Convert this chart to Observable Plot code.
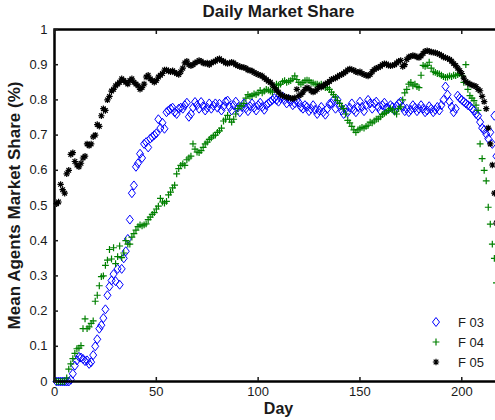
<!DOCTYPE html>
<html>
<head>
<meta charset="utf-8">
<script src="https://cdn.jsdelivr.net/npm/d3@7"></script>
<script src="https://cdn.jsdelivr.net/npm/@observablehq/plot@0.6"></script>
<style>
  html, body { margin: 0; padding: 0; background: #fff; overflow: hidden; }
  #chart { position: relative; width: 495px; height: 420px; overflow: hidden; }
  #chart > svg { display: block; max-width: none; width: 510px; height: 420px; }
  .legend-row { position: absolute; left: 428px; height: 20px; display: flex; align-items: center;
    font-family: "Liberation Sans", Arial, Helvetica, sans-serif; font-size: 13px; color: #1a1a1a; }
  .legend-row svg { width: 16px; height: 20px; }
  .legend-row span { margin-left: 14px; }
</style>
</head>
<body>
<div id="chart"></div>
<script>
// Mean agents' daily market share (fraction), one value per day starting at day 1
const f03 = [
  0, 0, 0, 0, 0, 0, 0,
  0.005, 0.022, 0.045, 0.06, 0.07, 0.068, 0.064, 0.058, 0.06, 0.05,
  0.055, 0.075, 0.10, 0.12, 0.15, 0.16, 0.18, 0.205, 0.245, 0.27,
  0.287, 0.305, 0.285, 0.32, 0.275, 0.32, 0.35, 0.37, 0.405, 0.46,
  0.535, 0.557, 0.61, 0.62, 0.647, 0.635, 0.675, 0.68, 0.665, 0.69,
  0.695, 0.70, 0.705, 0.745, 0.72, 0.735, 0.718, 0.765, 0.77, 0.775,
  0.778, 0.765, 0.76, 0.775, 0.778, 0.775, 0.785, 0.792, 0.752, 0.76,
  0.778, 0.794, 0.785, 0.775, 0.794, 0.782, 0.77, 0.778, 0.79, 0.775,
  0.784, 0.79, 0.778, 0.789, 0.77, 0.782, 0.795, 0.798, 0.78, 0.77,
  0.785, 0.795, 0.778, 0.765, 0.78, 0.79, 0.776, 0.768, 0.782, 0.79,
  0.778, 0.77, 0.785, 0.792, 0.78, 0.772, 0.785, 0.79, 0.795, 0.80,
  0.805, 0.80, 0.795, 0.805, 0.81, 0.80, 0.79, 0.802, 0.796, 0.785,
  0.79, 0.80, 0.792, 0.78, 0.775, 0.785, 0.78, 0.768, 0.775, 0.785,
  0.772, 0.76, 0.77, 0.78, 0.765, 0.758, 0.775, 0.788, 0.79, 0.80,
  0.775, 0.80, 0.782, 0.77, 0.76, 0.775, 0.765, 0.778, 0.79, 0.772,
  0.765, 0.78, 0.795, 0.78, 0.768, 0.785, 0.80, 0.79, 0.775, 0.79,
  0.795, 0.78, 0.77, 0.785, 0.792, 0.778, 0.775, 0.785, 0.78, 0.77,
  0.782, 0.79, 0.795, 0.78, 0.768, 0.775, 0.765, 0.772, 0.785, 0.778,
  0.768, 0.775, 0.785, 0.775, 0.765, 0.77, 0.782, 0.775, 0.765, 0.772,
  0.78, 0.77, 0.785, 0.80, 0.838, 0.815, 0.795, 0.78, 0.765, 0.775,
  0.812, 0.805, 0.80, 0.795, 0.79, 0.785, 0.782, 0.775, 0.77, 0.76,
  0.755, 0.737, 0.72, 0.715, 0.703, 0.69, 0.708, 0.675, 0.755, 0.64
];
const f04 = [
  0, 0, 0, 0, 0,
  0.01, 0.035, 0.05, 0.065, 0.08, 0.093, 0.095, 0.102, 0.15, 0.178,
  0.15, 0.155, 0.165, 0.172, 0.228, 0.245, 0.272, 0.298, 0.30, 0.33,
  0.345, 0.375, 0.348, 0.38, 0.335, 0.355, 0.385, 0.352, 0.365, 0.40,
  0.39, 0.39, 0.41, 0.42, 0.43, 0.44, 0.445, 0.442, 0.445, 0.448,
  0.46, 0.467, 0.475, 0.48, 0.49, 0.498, 0.52, 0.51, 0.507, 0.512,
  0.53, 0.538, 0.55, 0.558, 0.59, 0.605, 0.614, 0.618, 0.614, 0.63,
  0.635, 0.64, 0.675, 0.66, 0.652, 0.65, 0.656, 0.665, 0.675, 0.68,
  0.688, 0.692, 0.698, 0.70, 0.708, 0.712, 0.72, 0.74, 0.745, 0.756,
  0.745, 0.737, 0.745, 0.76, 0.775, 0.784, 0.782, 0.79, 0.805, 0.815,
  0.81, 0.812, 0.817, 0.815, 0.82, 0.827, 0.82, 0.825, 0.83, 0.828,
  0.825, 0.822, 0.835, 0.845, 0.842, 0.845, 0.852, 0.855, 0.85, 0.853,
  0.855, 0.86, 0.868, 0.858, 0.85, 0.845, 0.85, 0.855, 0.856, 0.855,
  0.85, 0.848, 0.845, 0.845, 0.842, 0.845, 0.84, 0.835, 0.835, 0.83,
  0.822, 0.815, 0.808, 0.798, 0.79, 0.782, 0.775, 0.76, 0.742, 0.735,
  0.725, 0.715, 0.708, 0.715, 0.718, 0.722, 0.72, 0.725, 0.728, 0.737,
  0.735, 0.74, 0.745, 0.746, 0.752, 0.758, 0.762, 0.765, 0.77, 0.775,
  0.772, 0.765, 0.76, 0.775, 0.78, 0.80, 0.82, 0.83, 0.845, 0.85,
  0.84, 0.845, 0.838, 0.835, 0.87, 0.898, 0.895, 0.898, 0.907, 0.89,
  0.88, 0.878, 0.875, 0.874, 0.87, 0.866, 0.864, 0.865, 0.868, 0.866,
  0.87, 0.869, 0.872, 0.875, 0.87, 0.85, 0.90, 0.83, 0.812, 0.805,
  0.798, 0.785, 0.77, 0.675, 0.633, 0.60, 0.57, 0.495, 0.447, 0.39,
  0.35, 0.28
];
const f05 = [
  0.505, 0.51, 0.56, 0.545, 0.535, 0.59, 0.60, 0.645, 0.65, 0.625,
  0.615, 0.61, 0.62, 0.635, 0.64, 0.675, 0.67, 0.675, 0.695, 0.70,
  0.73, 0.725, 0.755, 0.775, 0.77, 0.80, 0.81, 0.825, 0.83, 0.84,
  0.845, 0.85, 0.86, 0.855, 0.85, 0.845, 0.855, 0.86, 0.85, 0.845,
  0.84, 0.83, 0.835, 0.845, 0.865, 0.87, 0.86, 0.855, 0.85, 0.855,
  0.865, 0.87, 0.875, 0.885, 0.885, 0.882, 0.88, 0.883, 0.878, 0.875,
  0.872, 0.88, 0.89, 0.905, 0.91, 0.90, 0.897, 0.90, 0.905, 0.908,
  0.912, 0.91, 0.905, 0.903, 0.905, 0.90, 0.905, 0.908, 0.91, 0.915,
  0.917, 0.912, 0.91, 0.905, 0.903, 0.905, 0.907, 0.905, 0.90, 0.897,
  0.895, 0.893, 0.892, 0.89, 0.885, 0.884, 0.882, 0.878, 0.875, 0.872,
  0.87, 0.868, 0.862, 0.858, 0.853, 0.85, 0.843, 0.835, 0.828, 0.822,
  0.815, 0.812, 0.81, 0.808, 0.806, 0.805, 0.803, 0.806, 0.83, 0.812,
  0.815, 0.822, 0.83, 0.835, 0.832, 0.826, 0.822, 0.825, 0.83, 0.838,
  0.836, 0.84, 0.845, 0.848, 0.852, 0.858, 0.86, 0.862, 0.866, 0.87,
  0.872, 0.876, 0.88, 0.885, 0.888, 0.886, 0.884, 0.88, 0.878, 0.88,
  0.875, 0.872, 0.87, 0.868, 0.872, 0.88, 0.886, 0.89, 0.892, 0.895,
  0.90, 0.903, 0.902, 0.898, 0.897, 0.898, 0.90, 0.905, 0.91, 0.912,
  0.895, 0.90, 0.915, 0.922, 0.924, 0.926, 0.925, 0.922, 0.92, 0.925,
  0.932, 0.938, 0.94, 0.938, 0.936, 0.935, 0.934, 0.932, 0.93, 0.926,
  0.922, 0.92, 0.918, 0.915, 0.91, 0.903, 0.898, 0.89, 0.883, 0.875,
  0.862, 0.852, 0.848, 0.845, 0.842, 0.84, 0.838, 0.83, 0.826, 0.81,
  0.795, 0.775, 0.72, 0.675, 0.615, 0.535, 0.45
];

const seriesNames = ["F 03", "F 04", "F 05"];
const seriesColors = ["#0000ff", "#008000", "#000000"];
const xTicks = [0, 50, 100, 150, 200];
const yTicks = [0, 0.1, 0.2, 0.3, 0.4, 0.5, 0.6, 0.7, 0.8, 0.9, 1];
const yTickLabels = ["0", "0.1", "0.2", "0.3", "0.4", "0.5", "0.6", "0.7", "0.8", "0.9", "1"];
const titleText = "Daily Market Share";
const xLabel = "Day";
const yLabel = "Mean Agents Market Share (%)";

// Marker shapes: outlined diamond, plus sign and eight-armed asterisk
const diamond = { draw(ctx, size) {
  const r = Math.sqrt(size / Math.PI), w = r * 0.78;
  ctx.moveTo(0, -r); ctx.lineTo(w, 0); ctx.lineTo(0, r); ctx.lineTo(-w, 0); ctx.closePath();
}};
const plus = { draw(ctx, size) {
  const r = Math.sqrt(size / Math.PI);
  ctx.moveTo(-r, 0); ctx.lineTo(r, 0); ctx.moveTo(0, -r); ctx.lineTo(0, r);
}};
const asterisk = { draw(ctx, size) {
  const r = Math.sqrt(size / Math.PI), q = r * 0.72;
  ctx.moveTo(-r, 0); ctx.lineTo(r, 0); ctx.moveTo(0, -r); ctx.lineTo(0, r);
  ctx.moveTo(-q, -q); ctx.lineTo(q, q); ctx.moveTo(-q, q); ctx.lineTo(q, -q);
}};
const symbols = [diamond, plus, asterisk];
const radii = [4.5, 3.4, 3.2];
const widths = [1, 1.2, 1.2];

const toRows = (values) => values.map((share, i) => ({ day: i + 1, share }));
const seriesData = [f03, f04, f05].map(toRows);

const font = "'Liberation Sans', Arial, Helvetica, sans-serif";

const chart = Plot.plot({
  width: 510,
  height: 420,
  marginLeft: 54,
  marginRight: 8,
  marginTop: 29,
  marginBottom: 39,
  style: { fontFamily: font, fontSize: "13px", color: "#1a1a1a", background: "#fff", overflow: "visible", maxWidth: "none" },
  x: { domain: [0, 220] },
  y: { domain: [0, 1] },
  marks: [
    ...seriesData.map((rows, k) => Plot.dot(rows, {
      x: "day", y: "share", symbol: symbols[k], r: radii[k],
      fill: "none", stroke: seriesColors[k], strokeWidth: widths[k]
    })),
    Plot.frame({ stroke: "#000", strokeWidth: 2.5 }),
    Plot.axisX(xTicks, { anchor: "bottom", tickSize: -4, tickPadding: 9, label: null, strokeWidth: 1.5, fontSize: 13 }),
    Plot.axisX(xTicks, { anchor: "top", tickSize: -4, tickFormat: () => "", label: null, strokeWidth: 1.5 }),
    Plot.axisY(yTicks, { anchor: "left", tickSize: -4, tickPadding: 11, label: null, strokeWidth: 1.5, fontSize: 13,
      tickFormat: (d) => yTickLabels[yTicks.indexOf(d)] }),
    Plot.text([titleText], { text: (d) => d, frameAnchor: "top", lineAnchor: "middle", dy: -18,
      fontWeight: "bold", fontSize: 17, fill: "#1a1a1a" }),
    Plot.text([xLabel], { text: (d) => d, frameAnchor: "bottom", lineAnchor: "middle", dy: 27,
      fontWeight: "bold", fontSize: 16, fill: "#1a1a1a" }),
    Plot.text([yLabel], { text: (d) => d, frameAnchor: "left", textAnchor: "middle", lineAnchor: "middle", dx: -40, rotate: -90,
      fontWeight: "bold", fontSize: 17, fill: "#1a1a1a" })
  ]
});

const root = document.getElementById("chart");
root.appendChild(chart);

// Legend inside the lower-right corner of the axes
seriesNames.forEach((name, k) => {
  const row = document.createElement("div");
  row.className = "legend-row";
  row.style.top = (312 + k * 20) + "px";
  const p = d3.path();
  symbols[k].draw(p, Math.PI * radii[k] * radii[k]);
  const svg = d3.create("svg").attr("viewBox", "-8 -10 16 20");
  svg.append("path").attr("d", p.toString()).attr("fill", "none")
    .attr("stroke", seriesColors[k]).attr("stroke-width", widths[k]);
  row.appendChild(svg.node());
  const label = document.createElement("span");
  label.textContent = name;
  row.appendChild(label);
  root.appendChild(row);
});
</script>
</body>
</html>
